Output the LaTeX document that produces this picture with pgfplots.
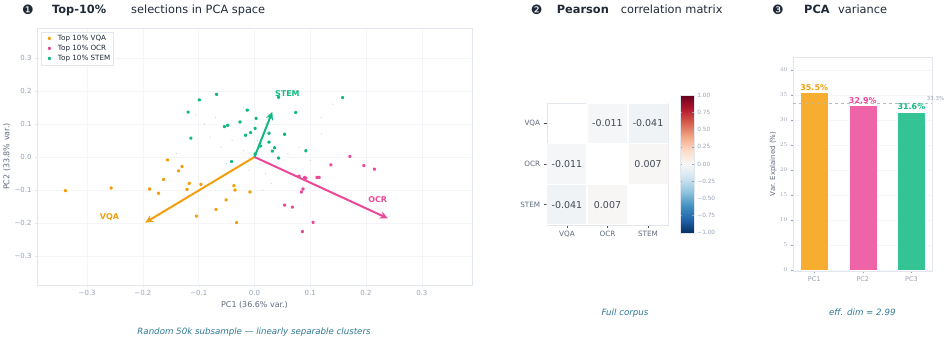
\documentclass[border=0pt]{standalone}
\usepackage{pgfplots}
\pgfplotsset{compat=1.18}
\usepackage{pgfplotstable}
\usepackage{fontspec}
\setmainfont{DejaVu Sans}
\usetikzlibrary{arrows.meta}

\definecolor{cvqa}{RGB}{245,158,11}
\definecolor{cocr}{RGB}{236,72,153}
\definecolor{cstem}{RGB}{16,185,129}
\definecolor{ink}{RGB}{31,41,55}
\definecolor{tickc}{RGB}{150,160,180}
\definecolor{labc}{RGB}{95,105,125}
\definecolor{framec}{RGB}{226,230,238}
\definecolor{gridc}{RGB}{243,245,248}
\definecolor{note}{RGB}{45,120,150}
\definecolor{faint}{RGB}{205,210,222}

\newcommand{\fs}[1]{\fontsize{#1}{#1}\selectfont}

% top-10% selections, PCA coordinates
\pgfplotstableread{
x y
-0.339 -0.102
-0.257 -0.094
-0.188 -0.097
-0.172 -0.110
-0.163 -0.068
-0.156 -0.009
-0.136 -0.042
-0.130 -0.029
-0.121 -0.098
-0.117 -0.080
-0.104 -0.179
-0.096 -0.083
-0.069 -0.159
-0.051 -0.130
-0.037 -0.087
-0.035 -0.100
-0.032 -0.199
-0.008 -0.106
}\vqa
\pgfplotstableread{
x y
0.171 0.002
0.137 -0.024
0.196 -0.026
0.215 -0.037
0.080 -0.058
0.090 -0.062
0.092 -0.064
0.112 -0.062
0.116 -0.062
0.087 -0.097
0.084 -0.106
0.054 -0.146
0.068 -0.152
0.105 -0.198
0.086 -0.226
}\ocr
\pgfplotstableread{
x y
-0.068 0.190
-0.099 0.173
-0.119 0.136
-0.114 0.057
-0.013 0.142
-0.026 0.106
-0.054 0.092
-0.048 0.096
-0.007 0.074
-0.016 0.066
0.003 0.117
0.001 0.087
-0.041 -0.014
0.001 0.009
0.043 0.181
0.158 0.180
0.074 0.135
0.026 0.072
0.054 0.069
0.026 0.045
0.036 0.028
0.032 0.018
0.011 0.033
0.043 -0.003
0.092 0.019
}\stem
% faint background subsample
\pgfplotstableread{
x y
-0.106 0.128
-0.090 0.100
-0.080 0.060
-0.060 0.030
-0.040 0.050
-0.020 0.020
0.010 -0.020
0.020 -0.050
0.030 -0.080
0.015 -0.100
0.060 0.010
0.080 0.030
0.120 0.070
0.140 0.160
0.120 0.120
0.050 0.200
-0.020 0.150
-0.140 0.010
-0.010 -0.040
0.040 -0.020
0.100 -0.010
-0.050 -0.020
0.005 0.050
-0.070 0.120
0.020 0.100
}\bg

% correlation matrix, off-diagonal cells as rectangles (VQA=2, OCR=1, STEM=0)
\pgfplotstableread{
x y c
0.5 1.5 -0.011
1.5 1.5 -0.011
1.5 2.5 -0.011
0.5 2.5 -0.011
1.5 1.5 -0.041
2.5 1.5 -0.041
2.5 2.5 -0.041
1.5 2.5 -0.041
-0.5 0.5 -0.011
0.5 0.5 -0.011
0.5 1.5 -0.011
-0.5 1.5 -0.011
1.5 0.5 0.007
2.5 0.5 0.007
2.5 1.5 0.007
1.5 1.5 0.007
-0.5 -0.5 -0.041
0.5 -0.5 -0.041
0.5 0.5 -0.041
-0.5 0.5 -0.041
0.5 -0.5 0.007
1.5 -0.5 0.007
1.5 0.5 0.007
0.5 0.5 0.007
}\corrcells
\pgfplotstableread{
x y lab
1 2 -0.011
2 2 -0.041
0 1 -0.011
2 1 0.007
0 0 -0.041
1 0 0.007
}\corrlab

\begin{document}
\begin{tikzpicture}
\useasboundingbox (0,0) rectangle (947bp,342bp);

% ---------- panel 1: PCA scatter ----------
\begin{axis}[
  at={(37bp,57bp)}, anchor=south west,
  width=435bp, height=257bp, scale only axis,
  xmin=-0.39, xmax=0.39, ymin=-0.388, ymax=0.391,
  axis line style={framec},
  xtick={-0.3,-0.2,-0.1,0,0.1,0.2,0.3},
  xticklabels={−0.3,−0.2,−0.1,0.0,0.1,0.2,0.3},
  ytick={-0.3,-0.2,-0.1,0,0.1,0.2,0.3},
  yticklabels={−0.3,−0.2,−0.1,0.0,0.1,0.2,0.3},
  tick align=outside, major tick length=2bp,
  tick style={framec},
  xtick pos=bottom, ytick pos=left,
  grid=major, major grid style={gridc, line width=0.6bp},
  extra x ticks={0}, extra y ticks={0},
  extra x tick labels={}, extra y tick labels={},
  extra tick style={grid style={framec, line width=1bp}, major tick length=0pt},
  ticklabel style={font=\fs{7}, text=tickc},
  xlabel={PC1 (36.6\% var.)}, ylabel={PC2 (33.8\% var.)},
  every axis x label/.style={at={(axis description cs:0.5,-0.078)}, anchor=center, font=\fs{8}, text=labc},
  every axis y label/.style={at={(axis description cs:-0.069,0.5)}, anchor=center, rotate=90, font=\fs{8}, text=labc},
  legend style={at={(axis description cs:0.0085,0.9856)}, anchor=north west,
    font=\fs{7.2}, draw=framec, fill=white, row sep=0bp, inner sep=1.5bp,
    nodes={inner sep=1.6bp, text=ink}},
  legend cell align=left,
  dot/.style={only marks, mark=*, mark size=0.9bp,
    mark options={line width=1.8bp, line join=round, draw=#1, fill=#1}, color=#1,
    legend image code/.code={\path[draw=none, fill=none] (0bp,-1bp) rectangle (14bp,1bp); \draw[##1] plot coordinates {(7bp,0bp)};}},
]
\addplot[faint, only marks, mark=*, mark size=0.3bp, mark options={line width=0.6bp, line join=round, draw=faint, fill=faint}, forget plot] table {\bg};
\addplot[dot=cvqa] table {\vqa};
\addlegendentry{Top 10\% VQA}
\addplot[dot=cocr] table {\ocr};
\addlegendentry{Top 10\% OCR}
\addplot[dot=cstem] table {\stem};
\addlegendentry{Top 10\% STEM}
% loading vectors
\addplot[cvqa, line width=2bp, -{Stealth[length=8bp,width=7.5bp]}, forget plot] coordinates {(0,0) (-0.196,-0.199)};
\addplot[cocr, line width=2bp, -{Stealth[length=8bp,width=7.5bp]}, forget plot] coordinates {(0,0) (0.239,-0.186)};
\addplot[cstem, line width=2bp, -{Stealth[length=8bp,width=7.5bp]}, forget plot] coordinates {(0,0) (0.032,0.137)};
\node[text=cvqa, font=\bfseries\fs{8}] at (axis cs:-0.26,-0.181) {VQA};
\node[text=cocr, font=\bfseries\fs{8}] at (axis cs:0.221,-0.130) {OCR};
\node[text=cstem, font=\bfseries\fs{8}] at (axis cs:0.059,0.193) {STEM};
\end{axis}

% ---------- panel 2: correlation heatmap ----------
\begin{axis}[
  at={(546.7bp,117bp)}, anchor=south west,
  width=121.6bp, height=122bp, scale only axis,
  xmin=-0.5, xmax=2.5, ymin=-0.5, ymax=2.5,
  axis line style={framec},
  xtick={0,1,2}, xticklabels={VQA,OCR,STEM},
  ytick={0,1,2}, yticklabels={STEM,OCR,VQA},
  xtick pos=bottom, ytick pos=left,
  tick align=outside, major tick length=3bp,
  tick style={ink!80, line width=0.6bp},
  ticklabel style={font=\fs{7.3}, text=labc},
  colormap={rdbu}{rgb255(0)=(5,48,97) rgb255(1)=(33,102,172) rgb255(2)=(67,147,195)
    rgb255(3)=(146,197,222) rgb255(4)=(209,229,240) rgb255(5)=(247,247,247)
    rgb255(6)=(253,219,199) rgb255(7)=(244,165,130) rgb255(8)=(214,96,77)
    rgb255(9)=(178,24,43) rgb255(10)=(103,0,31)},
  point meta min=-1, point meta max=1,
  colorbar,
  colorbar style={
    at={(parent axis.east)}, anchor=west, xshift=3.5bp,
    width=13.6bp, height=137.6bp, scale only axis,
    axis line style={framec},
    ytick={-1,-0.75,-0.5,-0.25,0,0.25,0.5,0.75,1},
    yticklabels={−1.00,−0.75,−0.50,−0.25,0.00,0.25,0.50,0.75,1.00},
    yticklabel style={font=\fs{5.8}, text=tickc},
    major tick length=2bp, tick style={tickc},
  },
]
\addplot[patch, patch type=rectangle, shader=faceted, faceted color=white,
  line width=1.5bp, point meta=explicit]
  table[meta=c] {\corrcells};
\addplot[only marks, mark=none, point meta=explicit symbolic,
  nodes near coords, every node near coord/.append style={anchor=center, font=\fs{9.5}, text=ink!85}]
  table[meta=lab] {\corrlab};
\end{axis}

% ---------- panel 3: PCA variance ----------
\begin{axis}[
  at={(793.3bp,71.3bp)}, anchor=south west,
  width=139bp, height=213.4bp, scale only axis,
  xmin=-0.43, xmax=2.43, ymin=-0.14, ymax=42.5,
  clip=false,
  axis line style={framec},
  xtick={0,1,2}, xticklabels={PC1,PC2,PC3},
  ytick={0,5,10,15,20,25,30,35,40},
  xtick pos=bottom, ytick pos=left,
  tick align=outside, major tick length=2.5bp, tick style={tickc},
  ymajorgrids, major grid style={gridc, line width=0.6bp},
  ticklabel style={font=\fs{6.5}, text=tickc},
  ylabel={Var. Explained (\%)},
  every axis y label/.style={at={(axis description cs:-0.145,0.5)}, anchor=center, rotate=90, font=\fs{7}, text=labc},
  barlab/.style={ybar, bar width=28bp, bar shift=0pt, draw=white, line width=0.6bp,
    nodes near coords={\pgfmathprintnumber[fixed, fixed zerofill, precision=1, assume math mode=true]{\pgfplotspointmeta}\%},
    every node near coord/.append style={font=\bfseries\fs{8}, inner sep=1.5bp, text=#1}},
]
\addplot[barlab=cvqa, fill=cvqa!85!white] coordinates {(0,35.5)};
\addplot[barlab=cocr, fill=cocr!85!white] coordinates {(1,32.9)};
\addplot[barlab=cstem, fill=cstem!85!white] coordinates {(2,31.6)};
\addplot[dashed, gray!55, line width=0.6bp, forget plot]
  coordinates {(-0.43,33.3) (2.43,33.3)};
\node[anchor=south west, font=\fs{5.5}, text=tickc, inner sep=1bp, xshift=-6.6bp] at (axis cs:2.43,33.6) {33.3\%};
\end{axis}

% ---------- titles ----------
\node[font=\fs{13}, text=ink] at (28bp,332.5bp) {❶};
\node[anchor=base west, inner sep=0, font=\bfseries\fs{11.4}, text=ink] at (52bp,328bp) {Top-10\%};
\node[anchor=base west, inner sep=0, font=\fs{11.4}, text=ink] at (131bp,328bp) {selections in PCA space};

\node[font=\fs{13}, text=ink] at (536.7bp,332.5bp) {❷};
\node[anchor=base west, inner sep=0, font=\bfseries\fs{11.4}, text=ink] at (556.7bp,328bp) {Pearson};
\node[anchor=base west, inner sep=0, font=\fs{11.4}, text=ink] at (620.7bp,328bp) {correlation matrix};

\node[font=\fs{13}, text=ink] at (778bp,332.5bp) {❸};
\node[anchor=base west, inner sep=0, font=\bfseries\fs{11.4}, text=ink] at (804bp,328bp) {PCA};
\node[anchor=base west, inner sep=0, font=\fs{11.4}, text=ink] at (838bp,328bp) {variance};

% ---------- subtitles ----------
\node[font=\itshape\fs{8.7}, text=note] at (254bp,10bp) {Random 50k subsample — linearly separable clusters};
\node[font=\itshape\fs{8.7}, text=note] at (625bp,29.3bp) {Full corpus};
\node[font=\itshape\fs{8.7}, text=note] at (862.3bp,30bp) {eff. dim = 2.99};
\end{tikzpicture}
\end{document}
